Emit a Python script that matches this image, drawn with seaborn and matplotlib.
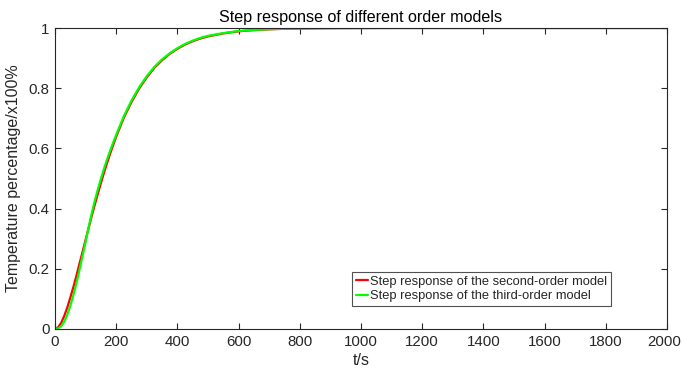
import matplotlib
matplotlib.use("Agg")
import matplotlib.pyplot as plt
import matplotlib.transforms as mtransforms
import seaborn as sns
import pandas as pd

# Time samples (s)
t_values = [0, 10, 20, 30, 40, 50, 60, 70, 80, 90, 100, 110, 120, 130, 140, 150,
            160, 170, 180, 190, 200, 225, 250, 275, 300, 325, 350, 375, 400, 425,
            450, 475, 500, 550, 600, 650, 700, 750, 800, 900, 1000, 1100, 1200, 1500, 2000]
# Second-order model response
second_order = [0, 0.0055, 0.020, 0.043, 0.071, 0.104, 0.139, 0.177, 0.217, 0.256, 0.296,
                0.336, 0.375, 0.413, 0.449, 0.485, 0.519, 0.551, 0.582, 0.611, 0.639,
                0.702, 0.754, 0.799, 0.836, 0.868, 0.893, 0.914, 0.931, 0.945,
                0.956, 0.965, 0.972, 0.982, 0.989, 0.993, 0.9957, 0.9974, 0.9984,
                0.9994, 0.9998, 1.0, 1.0, 1.0, 1.0]
# Third-order model response
third_order = [0, 0.002, 0.009, 0.024, 0.047, 0.077, 0.112, 0.152, 0.196, 0.243, 0.290,
               0.338, 0.384, 0.426, 0.464, 0.499, 0.532, 0.563, 0.592, 0.619, 0.645,
               0.707, 0.759, 0.803, 0.840, 0.871, 0.896, 0.916, 0.933, 0.947,
               0.958, 0.967, 0.974, 0.983, 0.990, 0.9935, 0.9960, 0.9976, 0.9986,
               0.9995, 0.9998, 1.0, 1.0, 1.0, 1.0]
series_names = ["Step response of the second-order model",
                "Step response of the third-order model"]
x_ticks = [0, 200, 400, 600, 800, 1000, 1200, 1400, 1600, 1800, 2000]
y_ticks = [0, 0.2, 0.4, 0.6, 0.8, 1]
y_tick_labels = ["0", "0.2", "0.4", "0.6", "0.8", "1"]

sns.set_style("ticks")
plt.rcParams["font.family"] = ["Liberation Sans", "DejaVu Sans"]

df = pd.DataFrame({
    "t": t_values * 2,
    "value": second_order + third_order,
    "series": [series_names[0]] * len(t_values) + [series_names[1]] * len(t_values),
})

fig = plt.figure(figsize=(6.82, 3.71), dpi=100)
ax = fig.add_axes([55 / 682, (371 - 329) / 371, 612 / 682, 301 / 371])

sns.lineplot(data=df, x="t", y="value", hue="series",
             palette={series_names[0]: "#ff0000", series_names[1]: "#00ff00"},
             linewidth=1.6, ax=ax, legend=True)

ax.set_xlim(0, 2000)
ax.set_ylim(0, 1)
ax.set_xticks(x_ticks)
ax.set_xticklabels([str(v) for v in x_ticks])
ax.set_yticks(y_ticks)
ax.set_yticklabels(y_tick_labels)
ax.tick_params(direction="in", length=4.5, width=0.8, colors="#262626",
               labelsize=10.8, top=True, right=True, labeltop=False, labelright=False,
               pad=4)
# nudge the last x tick label slightly left so it stays inside the figure
last = ax.get_xticklabels()[-1]
last.set_transform(last.get_transform() +
                   mtransforms.ScaledTranslation(-3 / 100, 0, fig.dpi_scale_trans))
for s in ax.spines.values():
    s.set_visible(True)
    s.set_color("#262626")
    s.set_linewidth(0.8)

ax.set_title("Step response of different order models", fontsize=11.6, color="#000000", pad=4)
ax.set_xlabel("t/s", fontsize=11.5, color="#262626", labelpad=3)
ax.set_ylabel("Temperature percentage/x100%", fontsize=11.5, color="#262626", labelpad=5)

leg = ax.legend(loc="lower left", bbox_to_anchor=(0.486, 0.076), borderaxespad=0,
                fontsize=9.3, handlelength=0.9, handletextpad=0.15, borderpad=0.3,
                labelspacing=0.2, frameon=True, fancybox=False, title=None)
leg.get_frame().set_edgecolor("#262626")
leg.get_frame().set_linewidth(0.8)

fig.savefig("out.png", dpi=100)
